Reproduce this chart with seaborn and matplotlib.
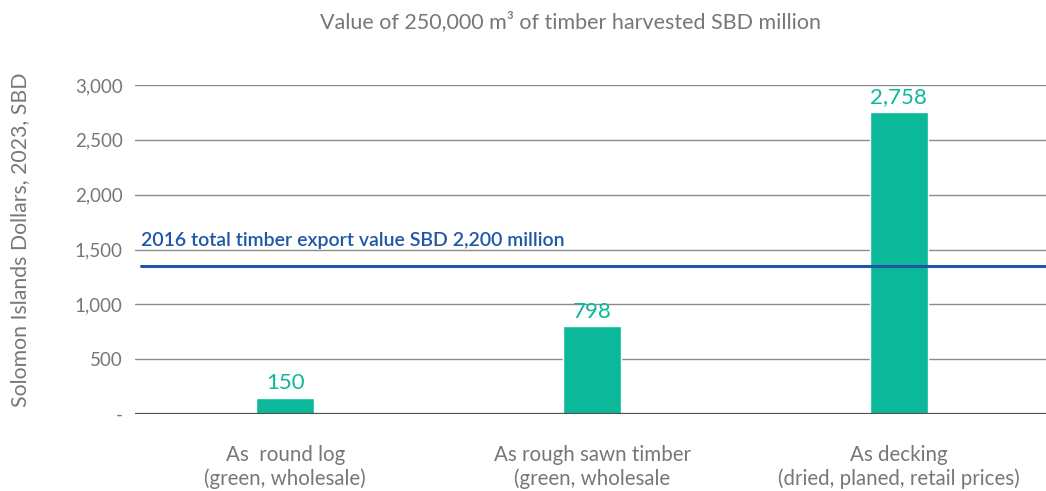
import matplotlib
matplotlib.use("Agg")
import matplotlib.pyplot as plt
import seaborn as sns
import pandas as pd

categories = ["As  round log\n(green, wholesale)",
              "As rough sawn timber\n(green, wholesale",
              "As decking\n(dried, planed, retail prices)"]
values = [150, 798, 2758]
value_labels = ["150", "798", "2,758"]
yticks = [0, 500, 1000, 1500, 2000, 2500, 3000]
ytick_labels = ["-", "500", "1,000", "1,500", "2,000", "2,500", "3,000"]
ref_value = 1350
ref_label = "2016 total timber export value SBD 2,200 million"
title = "Value of 250,000 m³ of timber harvested SBD million"
ylabel = "Solomon Islands Dollars, 2023, SBD"

sns.set_theme(style="white")
plt.rcParams['font.family'] = ['Lato', 'DejaVu Sans']

teal = "#0bb89a"
blue = "#1f57a8"
grey = "#777777"

df = pd.DataFrame({"cat": categories, "val": values})

fig = plt.figure(figsize=(10.46, 4.91), dpi=100)
ax = fig.add_axes([135/1046, 1 - 414/491, (1046-135)/1046, (414-85)/491])

for y in yticks[1:]:
    ax.axhline(y, color="#8c8c8c", lw=1.0, zorder=0)
ax.axhline(0, color="#505050", lw=1.6, zorder=3)

sns.barplot(data=df, x="cat", y="val", color=teal, width=0.19, ax=ax,
            saturation=1, zorder=2)

ax.set_xlim(-0.49, 2.48)
ax.set_ylim(0, 3000)
ax.set_yticks(yticks)
ax.set_yticklabels(ytick_labels, fontsize=13.5, color=grey)
ax.tick_params(axis="y", pad=9, length=0)
ax.tick_params(axis="x", pad=22, length=0)
for lbl in ax.get_xticklabels():
    lbl.set_fontsize(14.8)
    lbl.set_color(grey)
    lbl.set_linespacing(1.25)
ax.set_xlabel("")
ax.set_ylabel(ylabel, fontsize=15.3, color=grey)
ax.yaxis.set_label_coords(-105/911, 0.53)

for i, (v, t) in enumerate(zip(values, value_labels)):
    ax.text(i, v + 45, t, ha="center", va="bottom", fontsize=16, color=teal)

ax.plot([-0.47, 2.48], [ref_value, ref_value], color=blue, lw=2.2, zorder=4)
ax.text(-0.47, ref_value + 150, ref_label, ha="left", va="bottom",
        fontsize=14, color=blue, fontweight="semibold")

fig.text(571/1046, 1 - 22/491, title, ha="center", va="center", fontsize=15.5,
         color=grey)

for s in ax.spines.values():
    s.set_visible(False)

fig.savefig("out.png", dpi=100)
